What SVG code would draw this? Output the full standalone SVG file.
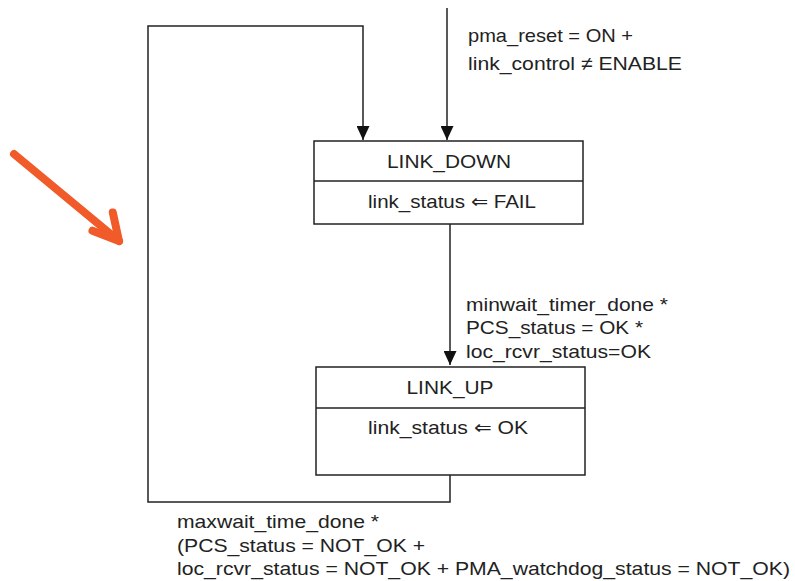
<svg xmlns="http://www.w3.org/2000/svg" width="795" height="581" viewBox="0 0 795 581">
<style>
text{font-family:"Liberation Sans",Arial,sans-serif;font-size:19px;fill:#222;}
.ln{fill:none;stroke:#222;stroke-width:1.5;}
.box{fill:#fff;stroke:#222;stroke-width:1.5;}
</style>
<defs>
<marker id="ah" markerWidth="15" markerHeight="13" refX="14" refY="6.5" orient="auto" markerUnits="userSpaceOnUse">
<path d="M0,0 L14,6.5 L0,13 Z" fill="#111"/>
</marker>
<marker id="oah" markerWidth="10" markerHeight="10" refX="5" refY="5" orient="auto" markerUnits="userSpaceOnUse" overflow="visible">
<path d="M-18,-13 L5,5 M-22,14 L5,5" fill="none" stroke="#f15a29" stroke-width="8" stroke-linecap="round" stroke-linejoin="round"/>
</marker>
</defs>
<g id="connectors">
<path class="ln" d="M447,8 L447,140" marker-end="url(#ah)"/>
<path class="ln" d="M450,475 L450,502 L148,502 L148,26 L363,26 L363,140" marker-end="url(#ah)"/>
<path class="ln" d="M450,224 L450,365" marker-end="url(#ah)"/>
</g>
<g id="LINK_DOWN">
<rect class="box" x="314" y="141" width="269" height="83"/>
<line class="ln" x1="314" y1="181" x2="583" y2="181"/>
<text x="449" y="168" text-anchor="middle" textLength="124" lengthAdjust="spacingAndGlyphs">LINK_DOWN</text>
<text x="368" y="208" textLength="168" lengthAdjust="spacingAndGlyphs">link_status ⇐ FAIL</text>
</g>
<g id="LINK_UP">
<rect class="box" x="316" y="367" width="269" height="108"/>
<line class="ln" x1="316" y1="408" x2="585" y2="408"/>
<text x="450" y="394" text-anchor="middle" textLength="87" lengthAdjust="spacingAndGlyphs">LINK_UP</text>
<text x="368" y="434" textLength="160" lengthAdjust="spacingAndGlyphs">link_status ⇐ OK</text>
</g>
<g id="labels">
<text x="468" y="42" textLength="165" lengthAdjust="spacingAndGlyphs">pma_reset = ON +</text>
<text x="468" y="70" textLength="214" lengthAdjust="spacingAndGlyphs">link_control ≠ ENABLE</text>
<text x="466" y="311" textLength="202" lengthAdjust="spacingAndGlyphs">minwait_timer_done *</text>
<text x="466" y="334" textLength="177" lengthAdjust="spacingAndGlyphs">PCS_status = OK *</text>
<text x="466" y="358" textLength="185" lengthAdjust="spacingAndGlyphs">loc_rcvr_status=OK</text>
<text x="177" y="528" textLength="202" lengthAdjust="spacingAndGlyphs">maxwait_time_done *</text>
<text x="177" y="552" textLength="248" lengthAdjust="spacingAndGlyphs">(PCS_status = NOT_OK +</text>
<text x="177" y="575" textLength="613" lengthAdjust="spacingAndGlyphs">loc_rcvr_status = NOT_OK + PMA_watchdog_status = NOT_OK)</text>
</g>
<g id="pointer">
<path d="M14,154 L119,241" fill="none" stroke="#f15a29" stroke-width="8" stroke-linecap="round" marker-end="url(#oah)"/>
</g>
</svg>
